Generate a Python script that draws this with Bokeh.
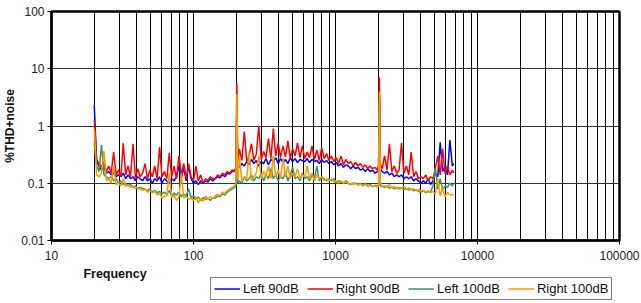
from bokeh.plotting import figure
from bokeh.layouts import column
from bokeh.models import (FixedTicker, CustomJSTickFormatter, Legend, LegendItem,
                          Label, Range1d, ColumnDataSource)
from bokeh.embed import file_html
from bokeh.resources import INLINE

# ---------------- data ----------------
freq = [
    20, 20.8, 21.6, 22.5, 23.4, 24.3, 25.3, 26.3, 27.4, 28.5,
    29.6, 30.8, 32.0, 33.3, 34.6, 36.0, 37.5, 39.0, 40.5, 42.1,
    43.8, 45.6, 47.4, 49.3, 51.3, 53.3, 55.5, 57.7, 60.0, 62.4,
    64.9, 67.5, 70.2, 73.0, 75.9, 79.0, 82.1, 85.4, 88.8, 92.4,
    96.1, 99.9, 103.9, 108.1, 112.4, 116.9, 121.6, 126.4, 131.5, 136.7,
    142.2, 147.9, 153.8, 160.0, 166.4, 173.0, 180.0, 187.2, 194.6, 199.0,
    202.0, 205.0, 210.5, 219, 228, 237, 246, 256, 266, 277,
    288, 300, 312, 324, 337, 351, 365, 379, 395, 410,
    427, 444, 462, 480, 499, 519, 540, 562, 584, 608,
    632, 657, 683, 711, 739, 769, 800, 832, 865, 899,
    935, 973, 1012, 1052, 1094, 1138, 1184, 1231, 1280, 1331,
    1385, 1440, 1498, 1558, 1620, 1685, 1752, 1822, 1895, 1971,
    2010, 2040, 2070, 2131, 2216, 2305, 2397, 2493, 2593, 2697,
    2804, 2917, 3033, 3155, 3281, 3412, 3549, 3691, 3838, 3992,
    4152, 4318, 4490, 4670, 4857, 5051, 5253, 5463, 5682, 5909,
    6145, 6391, 6647, 6800,
]

left_90 = [
    2.3, 0.24, 0.2, 0.17, 0.19, 0.15, 0.16, 0.14, 0.15, 0.13,
    0.14, 0.13, 0.15, 0.12, 0.14, 0.12, 0.13, 0.11, 0.13, 0.12,
    0.11, 0.13, 0.11, 0.12, 0.1, 0.12, 0.11, 0.13, 0.1, 0.12,
    0.11, 0.1, 0.12, 0.11, 0.13, 0.2, 0.12, 0.19, 0.11, 0.2,
    0.12, 0.1, 0.11, 0.095, 0.11, 0.1, 0.11, 0.105, 0.12, 0.11,
    0.12, 0.13, 0.125, 0.14, 0.13, 0.15, 0.145, 0.16, 0.17, 0.18,
    2.2, 0.2, 0.19, 0.22, 0.2, 0.24, 0.21, 0.26, 0.22, 0.25,
    0.2, 0.24, 0.22, 0.27, 0.21, 0.26, 0.24, 0.28, 0.22, 0.27,
    0.23, 0.26, 0.22, 0.28, 0.24, 0.27, 0.23, 0.26, 0.25, 0.24,
    0.27, 0.23, 0.26, 0.24, 0.25, 0.22, 0.26, 0.23, 0.25, 0.22,
    0.24, 0.21, 0.23, 0.2, 0.22, 0.19, 0.21, 0.2, 0.18, 0.2,
    0.18, 0.19, 0.17, 0.18, 0.16, 0.18, 0.16, 0.17, 0.15, 0.16,
    0.17, 3.0, 0.18, 0.16, 0.15, 0.16, 0.14, 0.15, 0.13, 0.14,
    0.13, 0.14, 0.12, 0.13, 0.12, 0.13, 0.11, 0.12, 0.11, 0.1,
    0.11, 0.1, 0.12, 0.095, 0.11, 0.15, 0.13, 0.52, 0.16, 0.2,
    0.14, 0.57, 0.2, 0.22,
]

right_90 = [
    1.3, 0.26, 0.22, 0.19, 0.24, 0.16, 0.2, 0.15, 0.35, 0.14,
    0.17, 0.13, 0.5, 0.14, 0.2, 0.13, 0.49, 0.12, 0.18, 0.13,
    0.15, 0.22, 0.12, 0.17, 0.13, 0.2, 0.12, 0.43, 0.13, 0.16,
    0.12, 0.34, 0.13, 0.2, 0.12, 0.3, 0.14, 0.22, 0.12, 0.22,
    0.13, 0.11, 0.2, 0.11, 0.14, 0.1, 0.12, 0.11, 0.13, 0.12,
    0.12, 0.14, 0.13, 0.15, 0.14, 0.16, 0.15, 0.17, 0.16, 0.18,
    5.5, 0.22, 0.4, 0.25, 0.8, 0.24, 0.3, 0.49, 0.25, 0.32,
    0.99, 0.26, 0.36, 0.28, 0.6, 0.27, 0.9, 0.3, 0.5, 0.28,
    0.45, 0.29, 0.55, 0.27, 0.4, 0.3, 0.5, 0.28, 0.45, 0.27,
    0.35, 0.28, 0.45, 0.26, 0.38, 0.25, 0.42, 0.27, 0.33, 0.25,
    0.3, 0.24, 0.28, 0.22, 0.3, 0.21, 0.26, 0.22, 0.24, 0.2,
    0.23, 0.2, 0.22, 0.19, 0.21, 0.18, 0.2, 0.18, 0.19, 0.17,
    0.2, 7.0, 0.22, 0.18, 0.3, 0.17, 0.49, 0.16, 0.2, 0.15,
    0.17, 0.51, 0.15, 0.2, 0.14, 0.35, 0.13, 0.16, 0.12, 0.13,
    0.12, 0.14, 0.11, 0.13, 0.12, 0.18, 0.3, 0.14, 0.4, 0.15,
    0.2, 0.14, 0.17, 0.15,
]

left_100 = [
    0.5, 0.2, 0.16, 0.47, 0.14, 0.13, 0.12, 0.13, 0.11, 0.12,
    0.1, 0.11, 0.095, 0.1, 0.09, 0.095, 0.085, 0.09, 0.08, 0.085,
    0.08, 0.078, 0.075, 0.08, 0.07, 0.075, 0.068, 0.072, 0.065, 0.07,
    0.064, 0.075, 0.06, 0.068, 0.062, 0.07, 0.058, 0.065, 0.06, 0.08,
    0.056, 0.06, 0.052, 0.058, 0.05, 0.056, 0.052, 0.055, 0.05, 0.056,
    0.055, 0.06, 0.058, 0.065, 0.062, 0.07, 0.075, 0.08, 0.085, 0.09,
    2.0, 0.1, 0.11, 0.1, 0.13, 0.11, 0.12, 0.14, 0.11, 0.13,
    0.12, 0.15, 0.11, 0.14, 0.12, 0.18, 0.12, 0.14, 0.11, 0.13,
    0.12, 0.16, 0.11, 0.14, 0.19, 0.12, 0.13, 0.11, 0.15, 0.12,
    0.13, 0.11, 0.14, 0.12, 0.2, 0.11, 0.13, 0.12, 0.11, 0.12,
    0.11, 0.12, 0.1, 0.11, 0.105, 0.1, 0.11, 0.1, 0.095, 0.1,
    0.1, 0.095, 0.1, 0.092, 0.1, 0.09, 0.095, 0.088, 0.092, 0.09,
    0.09, 2.5, 0.09, 0.088, 0.085, 0.09, 0.082, 0.086, 0.08, 0.084,
    0.08, 0.082, 0.078, 0.08, 0.076, 0.079, 0.074, 0.076, 0.072, 0.07,
    0.075, 0.068, 0.072, 0.07, 0.09, 0.19, 0.08, 0.12, 0.075, 0.09,
    0.085, 0.1, 0.09, 0.1,
]

right_100 = [
    0.9, 0.14, 0.13, 0.15, 0.37, 0.11, 0.12, 0.1, 0.2, 0.095,
    0.1, 0.09, 0.12, 0.088, 0.095, 0.085, 0.09, 0.08, 0.085, 0.078,
    0.075, 0.08, 0.07, 0.074, 0.068, 0.072, 0.062, 0.068, 0.055, 0.06,
    0.06, 0.15, 0.056, 0.062, 0.05, 0.058, 0.15, 0.055, 0.06, 0.052,
    0.055, 0.05, 0.058, 0.045, 0.055, 0.048, 0.06, 0.052, 0.058, 0.055,
    0.06, 0.065, 0.06, 0.07, 0.068, 0.075, 0.08, 0.085, 0.09, 0.1,
    3.6, 0.12, 0.29, 0.11, 0.13, 0.12, 0.35, 0.11, 0.13, 0.15,
    0.3, 0.12, 0.16, 0.13, 0.2, 0.12, 0.3, 0.13, 0.17, 0.12,
    0.28, 0.13, 0.2, 0.12, 0.15, 0.13, 0.18, 0.12, 0.14, 0.13,
    0.2, 0.12, 0.15, 0.11, 0.14, 0.12, 0.13, 0.11, 0.12, 0.11,
    0.12, 0.105, 0.11, 0.1, 0.11, 0.1, 0.105, 0.098, 0.1, 0.095,
    0.1, 0.092, 0.097, 0.09, 0.095, 0.088, 0.092, 0.086, 0.09, 0.085,
    0.09, 4.0, 0.1, 0.088, 0.09, 0.085, 0.095, 0.083, 0.088, 0.08,
    0.085, 0.08, 0.09, 0.078, 0.083, 0.077, 0.08, 0.075, 0.078, 0.073,
    0.075, 0.07, 0.074, 0.068, 0.072, 0.065, 0.12, 0.06, 0.08, 0.058,
    0.07, 0.062, 0.064, 0.062,
]

series_names = ["Left 90dB", "Right 90dB", "Left 100dB", "Right 100dB"]
series_values = [left_90, right_90, left_100, right_100]
series_colors = ["#0000FF", "#FF0000", "#339966", "#FF9900"]

x_major = [10, 100, 1000, 10000, 100000]
y_major = [0.01, 0.1, 1, 10, 100]
x_title = "Frequency"
y_title = "%THD+noise"

FONT = "Liberation Sans"
W = 641
H_MAIN = 264
H_FOOT = 39

# ---------------- main chart ----------------
p = figure(width=W, height=H_MAIN, x_axis_type="log", y_axis_type="log",
           x_range=Range1d(10, 100000), y_range=Range1d(0.01, 100),
           output_backend="svg", toolbar_location=None,
           min_border_left=0, min_border_right=22,
           min_border_top=11, min_border_bottom=24)

p.background_fill_color = "white"
p.border_fill_color = "white"
p.outline_line_color = "black"
p.outline_line_width = 2.5

x_minor = [m * 10 ** k for k in range(1, 5) for m in range(2, 10)]
p.xaxis.ticker = FixedTicker(ticks=x_major, minor_ticks=x_minor)
p.yaxis.ticker = FixedTicker(ticks=y_major, minor_ticks=[])

fmt = CustomJSTickFormatter(code="return tick.toString();")
for ax in (p.xaxis[0], p.yaxis[0]):
    ax.formatter = fmt
    ax.major_label_text_font = FONT
    ax.major_label_text_font_size = "12px"
    ax.major_label_text_color = "#222222"
    ax.major_tick_out = 4
    ax.major_tick_in = 0
    ax.minor_tick_out = 0
    ax.minor_tick_in = 0
    ax.axis_line_color = "black"
    ax.axis_line_width = 2
    ax.major_tick_line_color = "black"
p.yaxis.major_label_standoff = 3
p.xaxis.major_label_standoff = 6
p.yaxis.axis_label = y_title
p.yaxis.axis_label_standoff = 1
p.yaxis.axis_label_text_font = FONT
p.yaxis.axis_label_text_font_size = "12px"
p.yaxis.axis_label_text_font_style = "bold"
p.yaxis.axis_label_text_color = "#111111"

p.xgrid.grid_line_color = "black"
p.xgrid.grid_line_width = 1
p.xgrid.minor_grid_line_color = "black"
p.xgrid.minor_grid_line_width = 1
p.ygrid.grid_line_color = "#333333"
p.ygrid.grid_line_width = 1.2

for name, vals, col in zip(series_names, series_values, series_colors):
    src = ColumnDataSource(dict(x=freq, y=vals))
    p.line("x", "y", source=src, line_color=col, line_width=1.5)

# ---------------- footer: x title + legend (frame aligned with the chart) ----------------
FOOT_Y0 = 100  # footer y-range sits far above the data so its sample lines stay hidden
q = figure(width=W, height=H_FOOT, x_axis_type="log", x_range=p.x_range,
           y_range=Range1d(FOOT_Y0, FOOT_Y0 + H_FOOT),
           output_backend="svg", toolbar_location=None,
           x_axis_location=None, y_axis_location=None,
           min_border=0, min_border_right=22)
q.grid.visible = False
q.outline_line_color = None
q.background_fill_color = "white"
q.border_fill_color = "white"

q.add_layout(Label(x=28.0, y=FOOT_Y0 + H_FOOT - 9, text=x_title,
                   text_align="center", text_baseline="middle",
                   text_font=FONT, text_font_size="12.5px", text_font_style="bold",
                   text_color="#111111"))

leg_renderers = []
for vals, col in zip(series_values, series_colors):
    src = ColumnDataSource(dict(x=freq, y=vals))
    leg_renderers.append(q.line("x", "y", source=src, line_color=col, line_width=1.5))

legend = Legend(items=[LegendItem(label=n, renderers=[r]) for n, r in zip(series_names, leg_renderers)],
                orientation="horizontal", location=(159, 3))
legend.label_text_font = FONT
legend.label_text_font_size = "13px"
legend.label_text_color = "#111111"
legend.glyph_width = 26
legend.glyph_height = 15
legend.label_height = 15
legend.label_standoff = 3
legend.spacing = 8
legend.padding = 3
legend.margin = 0
legend.border_line_color = "black"
legend.border_line_width = 1
legend.background_fill_color = "white"
legend.background_fill_alpha = 1
q.add_layout(legend)

layout = column(p, q, spacing=0)
open("out.html", "w").write(file_html(layout, INLINE))
